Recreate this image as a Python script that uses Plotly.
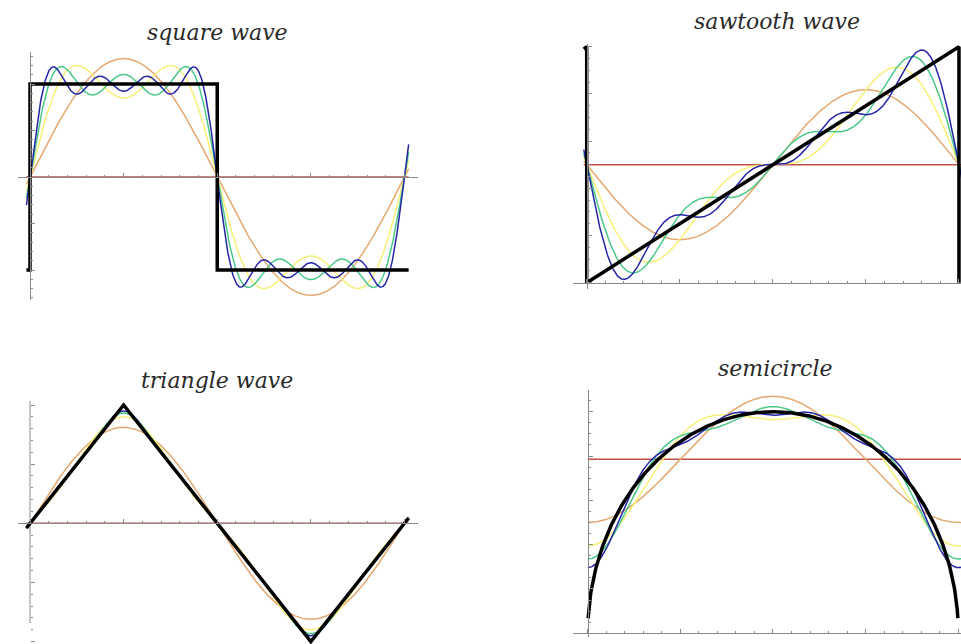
import numpy as np
import plotly.graph_objects as go

W, H = 961, 644

# Fourier partial sums: harmonic orders and amplitudes
SQUARE_MEAN = 0.0
SQUARE_ORDERS = [1, 3, 5, 7]
SQUARE_AMPS = [1.273, 0.424, 0.255, 0.182]      # sin terms

SAW_MEAN = 0.5
SAW_ORDERS = [1, 2, 3, 4]
SAW_AMPS = [-0.318, -0.159, -0.106, -0.080]     # sin terms

TRI_MEAN = 0.0
TRI_ORDERS = [1, 3, 5, 7]
TRI_AMPS = [0.811, -0.090, 0.032, -0.017]       # sin terms

SEMI_MEAN = 0.785
SEMI_ORDERS = [1, 2, 3, 4]
SEMI_AMPS = [-0.285, -0.106, -0.059, -0.039]    # cos terms

# the waveforms themselves (corner points)
SQUARE_X = [-0.06, 0, 0, np.pi, np.pi, 2 * np.pi + 0.07]
SQUARE_Y = [-1, -1, 1, 1, -1, -1]
SAW_X = [-0.05, 0, 0, 2 * np.pi, 2 * np.pi]
SAW_Y = [0.99, 1, 0, 1, 0]
TRI_X = [-0.06, np.pi / 2, 3 * np.pi / 2, 2 * np.pi + 0.07]
TRI_Y = [-0.04, 1, -1, 0.045]
SEMI_END = 0.068   # arc stops this far above the axis at both ends

# x span over which the partial sums are drawn
SQUARE_SPAN = [-0.06, 2 * np.pi + 0.07]
SAW_SPAN = [-0.05, 2 * np.pi + 0.05]
TRI_SPAN = [-0.06, 2 * np.pi + 0.07]
SEMI_SPAN = [0, 2 * np.pi + 0.05]

TITLES = ["square wave", "sawtooth wave", "triangle wave", "semicircle"]
COLORS = ["#c0504a", "#e4a870", "#f6f078", "#4cc88a", "#2626a6"]  # 0..4 terms

AXIS_GRAY = "#8a8a8a"

# panel geometry in pixels: plot box, origin and scale
panels = [
    dict(left=18, right=418, top=52, bottom=300, x0=30, xs=59.6, y0=177, ys=93,
         ydt=0.5, ymin=0.1, title_xy=(217, 33)),
    dict(left=573, right=961, top=44, bottom=289, x0=586.7, xs=59.25, y0=282.7, ys=236,
         ydt=0.2, ymin=0.05, title_xy=(777, 21)),
    dict(left=18, right=418, top=401, bottom=644, x0=30, xs=59.6, y0=523.3, ys=118.3,
         ydt=0.5, ymin=0.1, title_xy=(217, 380), yline_bottom=623),
    dict(left=573, right=961, top=390, bottom=637, x0=587.7, xs=58.98, y0=633.3, ys=221.6,
         ydt=0.2, ymin=0.05, title_xy=(775, 368)),
]


def partial_sum(x, mean, orders, amps, n, trig):
    y = np.full_like(x, mean)
    for k, a in zip(orders[:n], amps[:n]):
        y = y + a * trig(k * x)
    return y


series = [
    (SQUARE_SPAN, SQUARE_MEAN, SQUARE_ORDERS, SQUARE_AMPS, np.sin),
    (SAW_SPAN, SAW_MEAN, SAW_ORDERS, SAW_AMPS, np.sin),
    (TRI_SPAN, TRI_MEAN, TRI_ORDERS, TRI_AMPS, np.sin),
    (SEMI_SPAN, SEMI_MEAN, SEMI_ORDERS, SEMI_AMPS, np.cos),
]

u_end = np.sqrt(1 - SEMI_END ** 2)
u = np.linspace(-u_end, u_end, 600)
targets = [
    (SQUARE_X, SQUARE_Y),
    (SAW_X, SAW_Y),
    (TRI_X, TRI_Y),
    (np.pi * (1 + u), np.sqrt(1 - u ** 2)),
]

fig = go.Figure()

for i, (span, mean, orders, amps, trig) in enumerate(series):
    xa = "x" if i == 0 else f"x{i + 1}"
    ya = "y" if i == 0 else f"y{i + 1}"
    x = np.linspace(span[0], span[1], 900)
    for n, color in enumerate(COLORS):
        fig.add_trace(go.Scatter(x=x, y=partial_sum(x, mean, orders, amps, n, trig),
                                 mode="lines", line=dict(color=color, width=1.5),
                                 xaxis=xa, yaxis=ya, hoverinfo="skip"))
    tx, ty = targets[i]
    fig.add_trace(go.Scatter(x=tx, y=ty, mode="lines",
                             line=dict(color="black", width=3.5),
                             xaxis=xa, yaxis=ya, hoverinfo="skip"))

layout = dict(width=W, height=H, margin=dict(l=0, r=0, t=0, b=0),
              paper_bgcolor="white", plot_bgcolor="rgba(0,0,0,0)",
              showlegend=False, annotations=[], shapes=[])

for i, p in enumerate(panels):
    xr = [(p["left"] - p["x0"]) / p["xs"], (p["right"] - p["x0"]) / p["xs"]]
    yr = [(p["y0"] - p["bottom"]) / p["ys"], (p["y0"] - p["top"]) / p["ys"]]
    xd = [p["left"] / W, p["right"] / W]
    yd = [1 - p["bottom"] / H, 1 - p["top"] / H]
    common = dict(showline=True, linecolor=AXIS_GRAY, linewidth=1, showgrid=False,
                  zeroline=False, showticklabels=False, ticks="inside", ticklen=4,
                  tickcolor=AXIS_GRAY, anchor="free", fixedrange=True)
    layout["xaxis" if i == 0 else f"xaxis{i + 1}"] = dict(
        common, domain=xd, range=xr, position=1 - p["y0"] / H,
        tick0=0, dtick=np.pi / 2,
        minor=dict(tick0=0, dtick=np.pi / 10, ticks="inside", ticklen=2, tickcolor=AXIS_GRAY))
    yax = dict(
        common, domain=yd, range=yr, position=p["x0"] / W, side="left",
        tick0=0, dtick=p["ydt"],
        minor=dict(tick0=0, dtick=p["ymin"], ticks="inside", ticklen=2, tickcolor=AXIS_GRAY))
    if "yline_bottom" in p:
        # axis line stops short of the plot box bottom, the curve runs past it
        yax["showline"] = False
        layout["shapes"].append(dict(
            type="line", xref="x" if i == 0 else f"x{i + 1}",
            yref="y" if i == 0 else f"y{i + 1}",
            x0=0, x1=0, y0=(p["y0"] - p["yline_bottom"]) / p["ys"], y1=yr[1],
            line=dict(color=AXIS_GRAY, width=1), layer="below"))
    layout["yaxis" if i == 0 else f"yaxis{i + 1}"] = yax
    tx, ty = p["title_xy"]
    layout["annotations"].append(dict(
        text=f"<i>{TITLES[i]}</i>", x=tx / W, y=1 - ty / H, xref="paper", yref="paper",
        xanchor="center", yanchor="middle", showarrow=False,
        font=dict(family="DejaVu Serif", size=22, color="#2a2a2a")))

fig.update_layout(**layout)
# drop the default page margin so the figure sits at the window's corner
fig.write_html("out.html", config={"displayModeBar": False},
               post_script="document.body.style.margin='0';")
